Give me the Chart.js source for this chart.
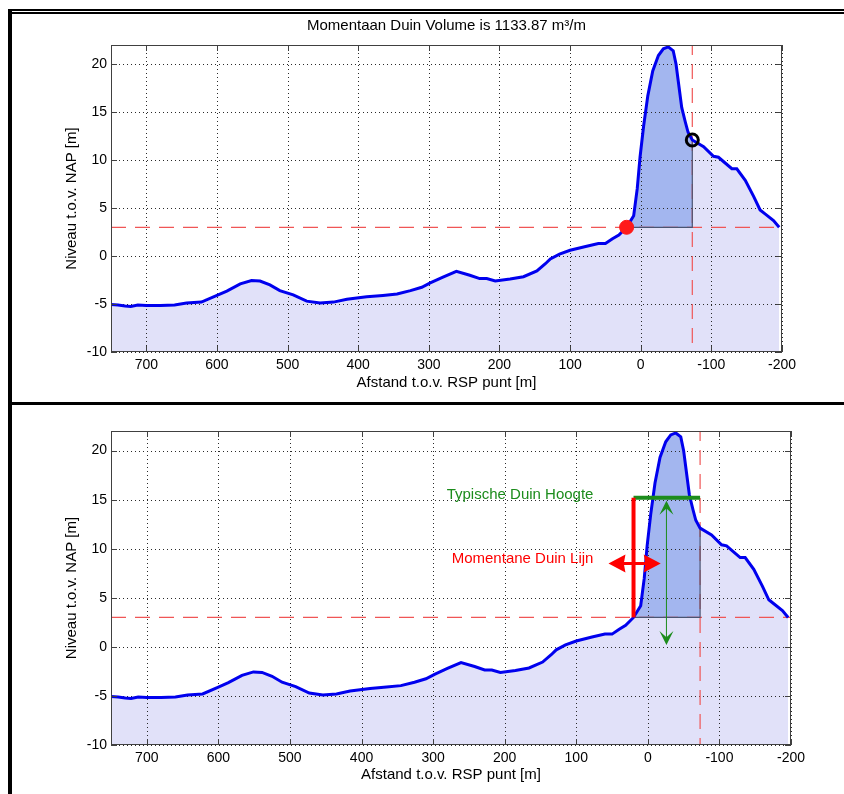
<!DOCTYPE html>
<html lang="nl">
<head>
<meta charset="UTF-8">
<title>Momentaan Duin Volume</title>
<script src="https://cdn.jsdelivr.net/npm/chart.js"></script>
<style>
  body { margin: 0; background: #fff; }
  #page { position: relative; width: 844px; height: 794px; overflow: hidden; }
  canvas { position: absolute; left: 0; }
  #profileTop { top: 0; }
  #profileBottom { top: 403px; }
  .rule { position: absolute; background: #000; }
</style>
</head>
<body>
<div id="page">
  <canvas id="profileTop" width="844" height="400"></canvas>
  <canvas id="profileBottom" width="844" height="391"></canvas>
  <div class="rule" style="left:8px;top:9px;width:836px;height:2px"></div>
  <div class="rule" style="left:8px;top:12px;width:836px;height:2px"></div>
  <div class="rule" style="left:8px;top:9px;width:4px;height:785px"></div>
  <div class="rule" style="left:8px;top:402px;width:836px;height:3px"></div>
</div>
<script>
// cross-shore profile: distance from RSP (m) and level relative to NAP (m)
const dist = [750, 740, 730, 722, 712, 700, 680, 660, 643, 622,
              600, 586, 567, 551, 539, 525, 511, 492, 473, 454,
              435, 416, 388, 365, 345, 326, 310, 298, 280, 261,
              242, 228, 218, 206, 185, 166, 147, 135, 128, 115,
              100, 78, 60, 50, 40, 31, 20, 10, 5, 1,
              -4, -10, -17, -25, -32, -39, -46, -50, -53, -58,
              -63, -67, -73, -89, -103, -110, -129, -136, -148, -160,
              -169, -176, -188, -196];
const level = [-5.05, -5.1, -5.2, -5.25, -5.1, -5.15, -5.15, -5.1, -4.9, -4.8,
               -4.1, -3.65, -2.9, -2.55, -2.6, -3.0, -3.6, -4.05, -4.7, -4.9,
               -4.8, -4.5, -4.25, -4.1, -3.95, -3.6, -3.25, -2.8, -2.2, -1.6,
               -2.0, -2.35, -2.35, -2.6, -2.4, -2.15, -1.55, -0.8, -0.3, 0.2,
               0.6, 1.0, 1.3, 1.3, 1.8, 2.2, 3.0, 4.2, 7.0, 10.3,
               13.5, 16.7, 19.3, 20.9, 21.6, 21.8, 21.4, 20.0, 18.3, 15.5,
               14.0, 12.9, 12.1, 11.4, 10.4, 10.3, 9.1, 9.1, 7.9, 6.2,
               4.8, 4.4, 3.7, 3.0];

const xTicks = [700, 600, 500, 400, 300, 200, 100, 0, -100, -200];
const yTicks = [-10, -5, 0, 5, 10, 15, 20];

// dune volume bounds
const refLevel = 3;          // horizontal reference level
const toeDist = 20;          // seaward start of dune volume
const landDist = -73;        // landward boundary
const landLevel = 12.1;      // profile level at the landward boundary
const typicalHeight = 15.2;  // typical dune height

// annotation positions (data units) for the lower panel
const shiftArrow = { from: 55, to: -18, level: 8.5 };
const heightArrow = { dist: -26, from: 15.2, to: 0.2 };
const duneLineLabel = { dist: 76, level: 9.0, text: 'Momentane Duin Lijn' };
const heightLabel = { dist: 76, level: 15.5, text: 'Typische Duin Hoogte' };

const FONT = "'Liberation Sans', Arial, Helvetica, sans-serif";
const BLUE = '#0000ee';
const LAVENDER = '#e1e1f9';
const DUNE_FILL = '#a3b6ef';
const DASH_RED = '#f05656';
const RED = '#ff0000';
const GREEN = '#1c8c1c';

const profile = dist.map((d, i) => ({ x: d, y: level[i] }));
const dunePart = profile.filter(p => p.x <= toeDist && p.x >= landDist);

// dotted grid, drawn over the filled areas
const gridOverFill = {
  id: 'gridOverFill',
  afterDatasetDraw(chart, args) {
    if (!chart.data.datasets[args.index].gridOnTop) return;
    const { ctx, chartArea: a, scales: { x, y } } = chart;
    ctx.save();
    ctx.strokeStyle = '#2a2a2a';
    ctx.lineWidth = 1;
    ctx.setLineDash([1, 3]);
    ctx.beginPath();
    x.ticks.forEach(t => {
      const px = Math.round(x.getPixelForValue(t.value)) + 0.5;
      ctx.moveTo(px, a.top); ctx.lineTo(px, a.bottom);
    });
    y.ticks.forEach(t => {
      const py = Math.round(y.getPixelForValue(t.value)) + 0.5;
      ctx.moveTo(a.left, py); ctx.lineTo(a.right, py);
    });
    ctx.stroke();
    ctx.restore();
  }
};

// axes box with inward tick marks
const axesBox = {
  id: 'axesBox',
  afterDatasetsDraw(chart) {
    const { ctx, chartArea: a, scales: { x, y } } = chart;
    ctx.save();
    ctx.strokeStyle = '#404040';
    ctx.lineWidth = 1;
    ctx.beginPath();
    x.ticks.forEach(t => {
      const px = Math.round(x.getPixelForValue(t.value)) + 0.5;
      ctx.moveTo(px, a.bottom); ctx.lineTo(px, a.bottom - 6);
      ctx.moveTo(px, a.top); ctx.lineTo(px, a.top + 6);
    });
    y.ticks.forEach(t => {
      const py = Math.round(y.getPixelForValue(t.value)) + 0.5;
      ctx.moveTo(a.left, py); ctx.lineTo(a.left + 6, py);
      ctx.moveTo(a.right, py); ctx.lineTo(a.right - 6, py);
    });
    ctx.stroke();
    ctx.strokeRect(Math.round(a.left) + 0.5, Math.round(a.top) + 0.5,
                   Math.round(a.right - a.left) - 1, Math.round(a.bottom - a.top) - 1);
    ctx.restore();
  }
};

function arrowHead(ctx, tx, ty, ux, uy, len, half, notch) {
  const bx = tx - ux * len, by = ty - uy * len;
  ctx.beginPath();
  ctx.moveTo(tx, ty);
  ctx.lineTo(bx - uy * half, by + ux * half);
  ctx.lineTo(tx - ux * len * notch, ty - uy * len * notch);
  ctx.lineTo(bx + uy * half, by - ux * half);
  ctx.closePath();
  ctx.fill();
}

// arrows and labels of the lower panel
const duneNotes = {
  id: 'duneNotes',
  afterDatasetsDraw(chart) {
    const { ctx, scales: { x, y } } = chart;
    ctx.save();

    // horizontal double arrow on the dune line
    const ay = y.getPixelForValue(shiftArrow.level);
    const ax1 = x.getPixelForValue(shiftArrow.from);
    const ax2 = x.getPixelForValue(shiftArrow.to);
    ctx.strokeStyle = RED; ctx.fillStyle = RED; ctx.lineWidth = 3;
    ctx.beginPath(); ctx.moveTo(ax1 + 10, ay); ctx.lineTo(ax2 - 10, ay); ctx.stroke();
    arrowHead(ctx, ax1, ay, -1, 0, 17, 9, 0.9);
    arrowHead(ctx, ax2, ay, 1, 0, 17, 9, 0.9);

    // vertical double arrow for the dune height
    const hx = x.getPixelForValue(heightArrow.dist);
    const hy1 = y.getPixelForValue(heightArrow.from) + 3;
    const hy2 = y.getPixelForValue(heightArrow.to);
    ctx.strokeStyle = GREEN; ctx.fillStyle = GREEN; ctx.lineWidth = 1;
    ctx.beginPath(); ctx.moveTo(hx, hy1 + 6); ctx.lineTo(hx, hy2 - 6); ctx.stroke();
    arrowHead(ctx, hx, hy1, 0, -1, 14, 7, 0.55);
    arrowHead(ctx, hx, hy2, 0, 1, 14, 7, 0.55);

    ctx.font = '15px ' + FONT;
    ctx.textAlign = 'right';
    ctx.textBaseline = 'middle';
    ctx.fillStyle = RED;
    ctx.fillText(duneLineLabel.text, x.getPixelForValue(duneLineLabel.dist), y.getPixelForValue(duneLineLabel.level));
    ctx.fillStyle = GREEN;
    ctx.fillText(heightLabel.text, x.getPixelForValue(heightLabel.dist), y.getPixelForValue(heightLabel.level));
    ctx.restore();
  }
};

function baseDatasets() {
  return [
    { data: profile, borderColor: BLUE, borderWidth: 3, pointRadius: 0, fill: false, order: 2 },
    { data: [{ x: toeDist, y: refLevel }, { x: landDist, y: refLevel }, { x: landDist, y: landLevel }],
      borderColor: '#4a5472', borderWidth: 1.2, pointRadius: 0, fill: false, order: 3 },
    { data: [{ x: 750, y: refLevel }, { x: -200, y: refLevel }],
      borderColor: DASH_RED, borderWidth: 1.2, borderDash: [15, 9], pointRadius: 0, fill: false, order: 4 },
    { data: [{ x: landDist, y: 22 }, { x: landDist, y: -10 }],
      borderColor: DASH_RED, borderWidth: 1.2, borderDash: [15, 9], borderDashOffset: 5, pointRadius: 0, fill: false, order: 4 },
    { data: dunePart, borderWidth: 0, pointRadius: 0, backgroundColor: DUNE_FILL,
      fill: { value: refLevel }, gridOnTop: true, order: 5 },
    { data: profile, borderWidth: 0, pointRadius: 0, backgroundColor: LAVENDER, fill: 'start', order: 6 }
  ];
}

function panelOptions(pad, xAxisHeight, xTitlePad, title) {
  return {
    responsive: false,
    animation: false,
    devicePixelRatio: 1,
    layout: { padding: pad },
    elements: { line: { tension: 0 } },
    plugins: { legend: { display: false }, tooltip: { enabled: false }, title },
    scales: {
      x: {
        type: 'linear', reverse: true, min: -200, max: 750,
        afterBuildTicks: s => { s.ticks = xTicks.map(value => ({ value })); },
        afterFit: s => { s.height = xAxisHeight; },
        grid: { display: false, drawTicks: false },
        border: { display: false },
        ticks: { color: '#000', font: { family: FONT, size: 14 }, padding: 5, maxRotation: 0, autoSkip: false },
        title: { display: true, text: 'Afstand t.o.v. RSP punt [m]', color: '#000',
                 font: { family: FONT, size: 15 }, padding: { top: 0, bottom: xTitlePad } }
      },
      y: {
        type: 'linear', min: -10, max: 22,
        afterBuildTicks: s => { s.ticks = yTicks.map(value => ({ value })); },
        afterFit: s => { s.width = 111; },
        grid: { display: false, drawTicks: false },
        border: { display: false },
        ticks: { color: '#000', font: { family: FONT, size: 14 }, padding: 4 },
        title: { display: true, text: 'Niveau t.o.v. NAP [m]', color: '#000',
                 font: { family: FONT, size: 15 }, padding: { top: 63, bottom: 0 } }
      }
    }
  };
}

// upper panel: dune volume with its boundary points
new Chart(document.getElementById('profileTop'), {
  type: 'line',
  data: {
    datasets: [
      { data: [{ x: toeDist, y: refLevel }], showLine: false, pointRadius: 7,
        pointBackgroundColor: '#ff1a1a', pointBorderColor: '#ff1a1a', pointBorderWidth: 1, order: 0 },
      { data: [{ x: landDist, y: landLevel }], showLine: false, pointRadius: 6,
        pointBackgroundColor: 'rgba(0,0,0,0)', pointBorderColor: '#000', pointBorderWidth: 3, order: 0 },
      ...baseDatasets()
    ]
  },
  options: panelOptions({ left: 0, right: 62, top: 0, bottom: 0 }, 48, 8, {
    display: true, fullSize: false, text: 'Momentaan Duin Volume is 1133.87 m³/m', color: '#000',
    font: { family: FONT, size: 15, weight: 'normal' }, padding: { top: 17, bottom: 10 }
  }),
  plugins: [gridOverFill, axesBox]
});

// lower panel: dune line and typical dune height
new Chart(document.getElementById('profileBottom'), {
  type: 'line',
  data: {
    datasets: [
      { data: [{ x: toeDist, y: refLevel }, { x: toeDist, y: typicalHeight }],
        borderColor: RED, borderWidth: 4, pointRadius: 0, fill: false, order: 1 },
      { data: [{ x: toeDist, y: typicalHeight }, { x: landDist, y: typicalHeight }],
        borderColor: GREEN, borderWidth: 4, pointRadius: 0, fill: false, order: 1 },
      ...baseDatasets()
    ]
  },
  options: panelOptions({ left: 0, right: 53, top: 28, bottom: 0 }, 49, 10, { display: false }),
  plugins: [gridOverFill, axesBox, duneNotes]
});
</script>
</body>
</html>
